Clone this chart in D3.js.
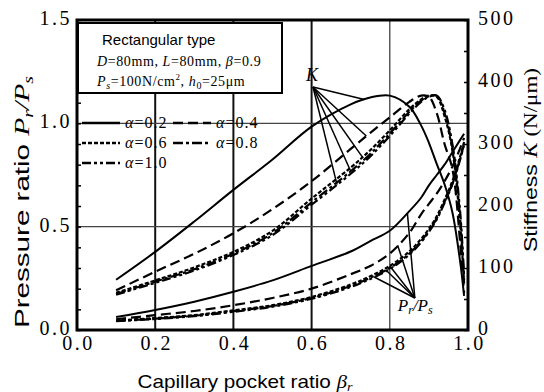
<!DOCTYPE html>
<html><head><meta charset="utf-8">
<script src="https://cdn.jsdelivr.net/npm/d3@7"></script>
<style>
body{margin:0;background:#fff;}
svg{display:block;}
</style></head>
<body>
<svg id="chart" width="544" height="392"></svg>
<script>
// ---------- data ----------
const beta = [0.1,0.2,0.3,0.4,0.5,0.6,0.7,0.75,0.8,0.85,0.88,0.9,0.92,0.94,0.96,0.98,0.99];
const alphas = ["0.2","0.4","0.6","0.8","1.0"];
// Stiffness K (N/um), right axis
const K_a02 = [81,126,175,226,275,328,364,375,378,360,330,302,268,235,190,110,55];
const K_a04 = [64,94,123,156,195,240,292,318,343,368,378,376,350,300,260,140,60];
const K_a06 = [60,80,101,126,160,212,262,290,322,356,372,378,376,345,290,170,75];
const K_a08 = [58,78,98,123,156,206,256,284,317,352,370,377,378,350,295,180,80];
const K_a10 = [57,76,96,121,153,202,252,280,313,349,368,376,378,355,300,190,85];
// Pressure ratio Pr/Ps, left axis
const P_a02 = [0.063,0.097,0.137,0.185,0.24,0.31,0.38,0.43,0.48,0.575,0.64,0.70,0.75,0.80,0.86,0.92,0.95];
const P_a04 = [0.052,0.072,0.092,0.12,0.155,0.20,0.27,0.31,0.37,0.47,0.56,0.61,0.66,0.72,0.79,0.88,0.93];
const P_a06 = [0.046,0.058,0.072,0.095,0.12,0.16,0.22,0.26,0.31,0.38,0.44,0.49,0.55,0.63,0.72,0.84,0.91];
const P_a08 = [0.044,0.055,0.069,0.091,0.116,0.155,0.213,0.253,0.30,0.37,0.43,0.48,0.54,0.62,0.71,0.83,0.90];
const P_a10 = [0.043,0.053,0.067,0.088,0.113,0.151,0.208,0.247,0.295,0.365,0.425,0.475,0.535,0.615,0.705,0.825,0.90];
const xTicks = [0,0.2,0.4,0.6,0.8,1.0];
const yLTicks = [0,0.5,1.0,1.5];
const yRTicks = [0,100,200,300,400,500];
// leader annotations (beta where each leader touches its curve)
const K_leaderOrigin = [0.6036, 392];
const K_leaderBeta = [0.735,0.74,0.73,0.70,0.665];
const P_leaderOrigin = [0.864, 0.155];
const P_leaderBeta = [0.845,0.82,0.80,0.79,0.76];

// ---------- setup ----------
const Kseries = [K_a02,K_a04,K_a06,K_a08,K_a10];
const Pseries = [P_a02,P_a04,P_a06,P_a08,P_a10];
const dashes = [null,"10,5","4,2","10,3,3,3","9,3,3,3,3,3"];
const svg = d3.select("#chart");
const x = d3.scaleLinear().domain([0,1]).range([77,468]);
const yL = d3.scaleLinear().domain([0,1.5]).range([330,20]);
const yR = d3.scaleLinear().domain([0,500]).range([330,20]);
const serif = "'Liberation Serif','Times New Roman',serif";
const sans = "'Liberation Sans',Arial,sans-serif";

// gridlines
const grid = svg.append("g");
[0.2,0.4,0.6].forEach(v=>grid.append("line").attr("x1",x(v)).attr("x2",x(v)).attr("y1",yL(1.5)).attr("y2",yL(0)).attr("stroke","#111").attr("stroke-width",2));
grid.append("line").attr("x1",x(0.8)).attr("x2",x(0.8)).attr("y1",yL(1.5)).attr("y2",yL(0)).attr("stroke","#333").attr("stroke-width",1.2);
[0.5,1.0].forEach(v=>grid.append("line").attr("x1",x(0)).attr("x2",x(1)).attr("y1",yL(v)).attr("y2",yL(v)).attr("stroke","#444").attr("stroke-width",1.2));

// axes
function styleAxis(g){
  g.select(".domain").remove();
  g.selectAll("line").attr("stroke","#000").attr("stroke-width",1.5);
  g.selectAll("text").attr("font-family",serif).attr("font-size",20).attr("fill","#000").attr("letter-spacing",2.5);
}
const axL = svg.append("g").attr("transform",`translate(${x(0)},0)`)
  .call(d3.axisLeft(yL).tickValues(yLTicks).tickFormat(d3.format(".1f")).tickSize(0).tickPadding(5));
styleAxis(axL);
axL.selectAll("text").attr("dy","0.22em");
const axLminor = svg.append("g").attr("transform",`translate(${x(0)},0)`)
  .call(d3.axisRight(yL).tickValues(d3.range(0,1.51,0.1)).tickFormat("").tickSize(4));
styleAxis(axLminor);
const axR = svg.append("g").attr("transform",`translate(${x(1)},0)`)
  .call(d3.axisRight(yR).tickValues(yRTicks).tickSize(0).tickPadding(10));
styleAxis(axR);
axR.selectAll("text").attr("dy","0.22em");
const axRminor = svg.append("g").attr("transform",`translate(${x(1)},0)`)
  .call(d3.axisLeft(yR).tickValues(d3.range(0,501,50)).tickFormat("").tickSize(4));
styleAxis(axRminor);
const axB = svg.append("g").attr("transform",`translate(0,${yL(0)})`)
  .call(d3.axisBottom(x).tickValues(xTicks).tickFormat(d3.format(".1f")).tickSize(0).tickPadding(6));
styleAxis(axB);
axB.selectAll("text").attr("dy","0.72em").attr("dx","1");

// legend box (covers gridlines)
const lb = svg.append("g");
lb.append("rect").attr("x",78).attr("y",23).attr("width",204).attr("height",70).attr("fill","#fff").attr("stroke","#000").attr("stroke-width",2);
lb.append("text").attr("x",102).attr("y",45).attr("font-family",sans).attr("font-size",15).text("Rectangular type");
const t2 = lb.append("text").attr("x",97).attr("y",66).attr("font-family",serif).attr("font-size",14).attr("letter-spacing",0.6);
t2.append("tspan").attr("font-style","italic").text("D");
t2.append("tspan").text("=80mm, ");
t2.append("tspan").attr("font-style","italic").text("L");
t2.append("tspan").text("=80mm, ");
t2.append("tspan").attr("font-style","italic").text("β");
t2.append("tspan").text("=0.9");
const t3 = lb.append("text").attr("x",97).attr("y",86).attr("font-family",serif).attr("font-size",14).attr("letter-spacing",0.6);
t3.append("tspan").attr("font-style","italic").text("P");
t3.append("tspan").attr("font-style","italic").attr("font-size",10).attr("dy",3).text("s");
t3.append("tspan").attr("dy",-3).text("=100N/cm");
t3.append("tspan").attr("font-size",9).attr("dy",-6).text("2");
t3.append("tspan").attr("dy",6).text(", ");
t3.append("tspan").attr("font-style","italic").text("h");
t3.append("tspan").attr("font-size",10).attr("dy",3).text("0");
t3.append("tspan").attr("dy",-3).text("=25μm");

// curves
const lineK = d3.line().x(d=>x(d[0])).y(d=>yR(d[1])).curve(d3.curveCatmullRom.alpha(0.5));
const lineP = d3.line().x(d=>x(d[0])).y(d=>yL(d[1])).curve(d3.curveCatmullRom.alpha(0.5));
const curves = svg.append("g").attr("fill","none").attr("stroke","#000");
Kseries.forEach((s,i)=>{
  curves.append("path").datum(beta.map((b,j)=>[b,s[j]])).attr("d",lineK)
    .attr("stroke-width",i==0?2:2.2).attr("stroke-dasharray",dashes[i]);
});
Pseries.forEach((s,i)=>{
  curves.append("path").datum(beta.map((b,j)=>[b,s[j]])).attr("d",lineP)
    .attr("stroke-width",i==0?2:2.2).attr("stroke-dasharray",dashes[i]);
});

// leaders
function interp(series,b){ return d3.scaleLinear().domain(beta).range(series)(b); }
const lead = svg.append("g").attr("stroke","#000").attr("stroke-width",1.5);
K_leaderBeta.forEach((b,i)=>{
  lead.append("line").attr("x1",x(K_leaderOrigin[0])).attr("y1",yR(K_leaderOrigin[1]))
    .attr("x2",x(b)).attr("y2",yR(interp(Kseries[i],b)));
});
P_leaderBeta.forEach((b,i)=>{
  lead.append("line").attr("x1",x(P_leaderOrigin[0])).attr("y1",yL(P_leaderOrigin[1]))
    .attr("x2",x(b)).attr("y2",yL(interp(Pseries[i],b)));
});
svg.append("text").attr("x",x(K_leaderOrigin[0])-7).attr("y",yR(K_leaderOrigin[1])-6)
  .attr("font-family",serif).attr("font-style","italic").attr("font-size",18).text("K");
const pl = svg.append("text").attr("x",x(P_leaderOrigin[0])-17).attr("y",yL(P_leaderOrigin[1])+13)
  .attr("font-family",serif).attr("font-style","italic").attr("font-size",17);
pl.append("tspan").text("P");
pl.append("tspan").attr("font-size",12).attr("dy",3).text("r");
pl.append("tspan").attr("dy",-3).text("/P");
pl.append("tspan").attr("font-size",12).attr("dy",3).text("s");

// series legend
const lg = svg.append("g");
alphas.forEach((a,i)=>{
  const col = i%2, row = Math.floor(i/2);
  const x0 = col==0?82:173, yy = 123+row*20;
  lg.append("line").attr("x1",x0).attr("x2",x0+38).attr("y1",yy).attr("y2",yy)
    .attr("stroke","#000").attr("stroke-width",2.6).attr("stroke-dasharray",dashes[i]);
  const t = lg.append("text").attr("x",x0+43).attr("y",yy+5).attr("font-family",serif).attr("font-size",16).attr("letter-spacing",1);
  t.append("tspan").attr("font-style","italic").text("α");
  t.append("tspan").text("="+a);
});

// frame
svg.append("rect").attr("x",x(0)).attr("y",yL(1.5)).attr("width",x(1)-x(0)).attr("height",yL(0)-yL(1.5))
  .attr("fill","none").attr("stroke","#000").attr("stroke-width",3);

// axis titles
const yt = svg.append("text").attr("transform","translate(29,202) rotate(-90)").attr("text-anchor","middle")
  .attr("font-family",sans).attr("font-size",21).attr("textLength",252).attr("lengthAdjust","spacingAndGlyphs");
yt.append("tspan").text("Pressure ratio  ");
yt.append("tspan").attr("font-family",serif).attr("font-style","italic").text("P");
yt.append("tspan").attr("font-family",serif).attr("font-style","italic").attr("font-size",14).attr("dy",4).text("r");
yt.append("tspan").attr("font-family",serif).attr("font-style","italic").attr("dy",-4).text("/P");
yt.append("tspan").attr("font-family",serif).attr("font-style","italic").attr("font-size",14).attr("dy",4).text("s");
const rt = svg.append("text").attr("transform","translate(537,160) rotate(-90)").attr("text-anchor","middle")
  .attr("font-family",sans).attr("font-size",19).attr("textLength",184).attr("lengthAdjust","spacingAndGlyphs");
rt.append("tspan").text("Stiffness  ");
rt.append("tspan").attr("font-family",serif).attr("font-style","italic").text("K");
rt.append("tspan").attr("font-family",serif).text(" (N/μm)");
const xt = svg.append("text").attr("x",245).attr("y",388).attr("text-anchor","middle")
  .attr("font-family",sans).attr("font-size",19).attr("textLength",215).attr("lengthAdjust","spacingAndGlyphs");
xt.append("tspan").text("Capillary pocket ratio  ");
xt.append("tspan").attr("font-family",serif).attr("font-style","italic").text("β");
xt.append("tspan").attr("font-family",serif).attr("font-style","italic").attr("font-size",13).attr("dy",3).text("r");
</script>
</body></html>
